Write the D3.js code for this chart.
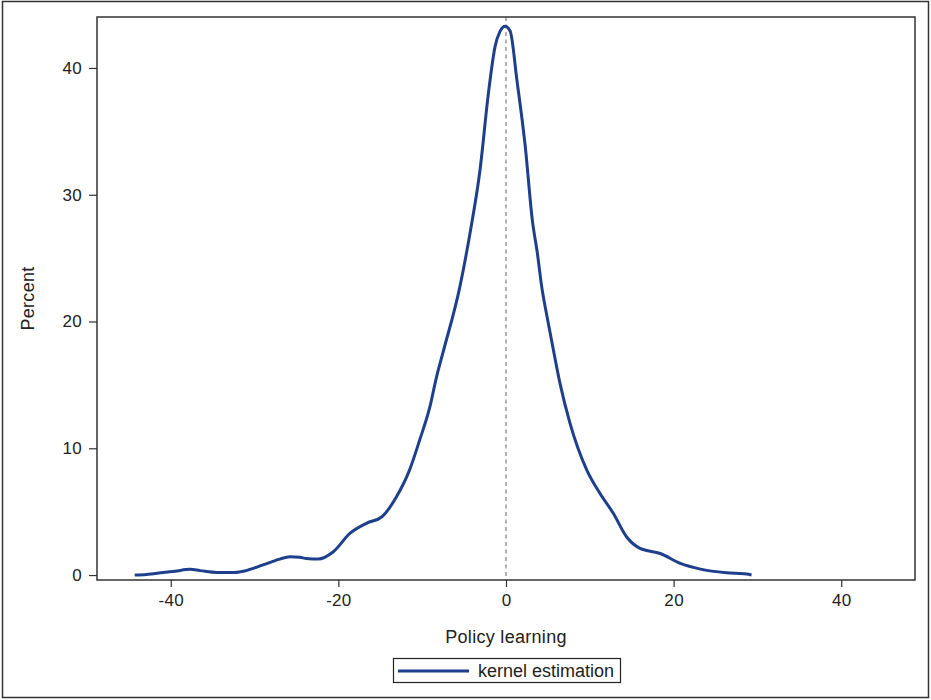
<!DOCTYPE html>
<html>
<head>
<meta charset="utf-8">
<script src="https://cdn.jsdelivr.net/npm/d3@7"></script>
<style>
  body { margin: 0; background: #fff; }
  text { font-family: "Liberation Sans", Arial, sans-serif; fill: #222; }
</style>
</head>
<body>
<svg id="chart" width="931" height="700"></svg>
<script>
// Kernel estimate
const xVals = [-44.3, -42.9, -40.9, -39.5, -37.7, -36.5, -34.5, -32.4, -31, -29, -27, -25.8, -24.6, -23.8, -22.4,
  -20.6, -18.6, -16.6, -14.8, -13.05, -11.5, -10.3, -9.07, -8.3, -7.5, -5.5, -4.3, -3.1, -2.1, -1.3, -0.7, -0.1,
  0.5, 1.3, 2.3, 3.14, 3.74, 4.26, 4.98, 5.73, 6.45, 7.64, 9.63, 11.2, 12.8, 14.4, 16.0, 18.4, 20.8, 23.2, 26.3, 28.7, 29.3];
const yVals = [0, 0.05, 0.2, 0.3, 0.45, 0.35, 0.2, 0.2, 0.35, 0.8, 1.26, 1.45, 1.4, 1.3, 1.26,
  1.84, 3.3, 4.1, 4.6, 6.2, 8.3, 10.65, 13.3, 15.6, 17.6, 22.75, 26.95, 31.95, 38.0, 41.7, 42.9, 43.3,
  42.9, 39.05, 33.8, 28.0, 25.4, 22.75, 20.1, 17.5, 15.1, 11.97, 8.3, 6.45, 4.87, 3.0, 2.1, 1.7, 0.92, 0.47, 0.18, 0.08, 0];
const xTicks = [-40, -20, 0, 20, 40];
const yTicks = [0, 10, 20, 30, 40];
const refLine = 0;

const svg = d3.select("#chart");
const pLeft = 97, pRight = 915, pTop = 17, pBottom = 580;
const lineColor = "#1e3f8c";

const x = d3.scaleLinear().domain([-48.8, 48.8]).range([pLeft, pRight]);
const y = d3.scaleLinear().domain([-0.39, 44.02]).range([pBottom, pTop]);

// outer border
svg.append("rect")
  .attr("x", 2.5).attr("y", 1.5)
  .attr("width", 926).attr("height", 696)
  .attr("fill", "none").attr("stroke", "#333").attr("stroke-width", 1.5);

// reference line at 0
svg.append("line")
  .attr("x1", x(refLine)).attr("x2", x(refLine))
  .attr("y1", pTop).attr("y2", pBottom)
  .attr("stroke", "#808080").attr("stroke-width", 1.2)
  .attr("stroke-dasharray", "4,3.5");

// axes (plain hyphen for negatives, like the original)
const fmt = (d) => String(d);
const xAxis = svg.append("g")
  .attr("transform", `translate(0,${pBottom})`)
  .call(d3.axisBottom(x).tickValues(xTicks).tickFormat(fmt).tickSize(7).tickPadding(7));
const yAxis = svg.append("g")
  .attr("transform", `translate(${pLeft},0)`)
  .call(d3.axisLeft(y).tickValues(yTicks).tickFormat(fmt).tickSize(8).tickPadding(7));

[xAxis, yAxis].forEach((g) => {
  g.select(".domain").remove();
  g.selectAll("line").attr("stroke", "#333").attr("stroke-width", 1.2);
  g.selectAll("text").style("font-size", "17px").style("letter-spacing", "0.3px").attr("fill", "#222");
});

// plot frame
svg.append("rect")
  .attr("x", pLeft).attr("y", pTop)
  .attr("width", pRight - pLeft).attr("height", pBottom - pTop)
  .attr("fill", "none").attr("stroke", "#333").attr("stroke-width", 1.5);

// curve
const pts = xVals.map((d, i) => [d, yVals[i]]);
svg.append("path")
  .datum(pts)
  .attr("fill", "none")
  .attr("stroke", lineColor)
  .attr("stroke-width", 3)
  .attr("stroke-linejoin", "round")
  .attr("d", d3.line().x((d) => x(d[0])).y((d) => y(d[1])).curve(d3.curveMonotoneX));

// axis titles
svg.append("text")
  .attr("x", (pLeft + pRight) / 2).attr("y", 643)
  .attr("text-anchor", "middle")
  .style("font-size", "18px").style("letter-spacing", "0.3px")
  .text("Policy learning");

svg.append("text")
  .attr("transform", `translate(34,${(pTop + pBottom) / 2}) rotate(-90)`)
  .attr("text-anchor", "middle")
  .style("font-size", "18px").style("letter-spacing", "0.3px")
  .text("Percent");

// legend
svg.append("rect")
  .attr("x", 393.5).attr("y", 658.5)
  .attr("width", 227).attr("height", 24)
  .attr("fill", "none").attr("stroke", "#222").attr("stroke-width", 1.2);
svg.append("line")
  .attr("x1", 398).attr("x2", 469)
  .attr("y1", 671).attr("y2", 671)
  .attr("stroke", lineColor).attr("stroke-width", 3);
svg.append("text")
  .attr("x", 478).attr("y", 677)
  .style("font-size", "18px")
  .text("kernel estimation");
</script>
</body>
</html>
